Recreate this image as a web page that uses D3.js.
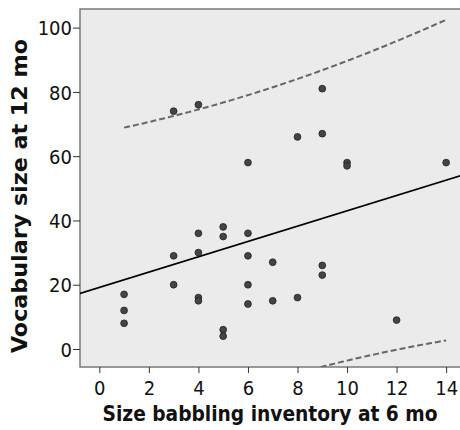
<!DOCTYPE html>
<html>
<head>
<meta charset="utf-8">
<script src="https://cdn.jsdelivr.net/npm/d3@7"></script>
<style>
  body { margin: 0; background: #fff; }
  .axis text { font-family: "DejaVu Sans Condensed", "DejaVu Sans", sans-serif; font-size: 20px; fill: #111; }
  .axis path, .axis line { stroke: #333; }
  .title { font-family: "DejaVu Sans Condensed", "DejaVu Sans", sans-serif; font-weight: bold; font-size: 21px; fill: #111; }
</style>
</head>
<body>
<div id="chart"></div>
<script>
// babbling inventory size at 6 mo
var babbling = [1, 1, 1, 3, 3, 3, 4, 4, 4, 4, 4, 5, 5, 5, 5, 6, 6, 6, 6, 6, 7, 7, 8, 8, 9, 9, 9, 9, 10, 10, 12, 14];
// vocabulary size at 12 mo
var vocab = [17, 12, 8, 74, 29, 20, 76, 36, 30, 16, 15, 38, 35, 6, 4, 58, 36, 29, 20, 14, 27, 15, 66, 16, 81, 67, 26, 23, 58, 57, 9, 58];
var x_ticks = [0, 2, 4, 6, 8, 10, 12, 14];
var y_ticks = [0, 20, 40, 60, 80, 100];
var t_crit = 2.042; // t(0.975, df = 30)

var chart_width = 460;
var chart_height = 430;
var left = 80, top_ = 9, right = 462, bottom = 367;

var svg = d3.select('#chart')
  .append('svg')
  .attr('width', chart_width)
  .attr('height', chart_height);

var x_scale = d3.scaleLinear()
  .domain([-0.78, 14.6])
  .range([left, 460 + 1]);

var y_scale = d3.scaleLinear()
  .domain([-5.6, 105.8])
  .range([bottom, top_]);

// plot background
svg.append('rect')
  .attr('x', left)
  .attr('y', top_)
  .attr('width', right - left)
  .attr('height', bottom - top_)
  .attr('fill', '#ebebeb')
  .attr('stroke', '#7a7a7a')
  .attr('stroke-width', 1.5);

// regression and 95% prediction interval
var n = babbling.length;
var mx = d3.mean(babbling), my = d3.mean(vocab);
var sxx = d3.sum(babbling, (d) => (d - mx) * (d - mx));
var sxy = d3.sum(babbling, (d, i) => (d - mx) * (vocab[i] - my));
var slope = sxy / sxx;
var intercept = my - slope * mx;
var sse = d3.sum(babbling, (d, i) => Math.pow(vocab[i] - (intercept + slope * d), 2));
var s = Math.sqrt(sse / (n - 2));

var pi_x = d3.range(d3.min(babbling), d3.max(babbling) + 0.001, 0.1);
function half(x) {
  return t_crit * s * Math.sqrt(1 + 1 / n + (x - mx) * (x - mx) / sxx);
}

svg.append('clipPath').attr('id', 'clip')
  .append('rect')
  .attr('x', left).attr('y', top_)
  .attr('width', right - left).attr('height', bottom - top_);

var g = svg.append('g').attr('clip-path', 'url(#clip)');

var line = d3.line()
  .x((d) => x_scale(d[0]))
  .y((d) => y_scale(d[1]));

[1, -1].forEach(function(sign) {
  g.append('path')
    .datum(pi_x.map((x) => [x, intercept + slope * x + sign * half(x)]))
    .attr('d', line)
    .attr('fill', 'none')
    .attr('stroke', '#666')
    .attr('stroke-width', 2)
    .attr('stroke-dasharray', '6,3');
});

g.append('path')
  .datum(x_scale.domain().map((x) => [x, intercept + slope * x]))
  .attr('d', line)
  .attr('fill', 'none')
  .attr('stroke', '#000')
  .attr('stroke-width', 1.8);

// points
g.selectAll('circle')
  .data(babbling)
  .enter()
  .append('circle')
  .attr('cx', (d) => x_scale(d))
  .attr('cy', (d, i) => y_scale(vocab[i]))
  .attr('r', 3.4)
  .attr('fill', '#444')
  .attr('stroke', '#222')
  .attr('stroke-width', 0.8);

// axes
var x_axis = d3.axisBottom(x_scale).tickValues(x_ticks).tickSize(6).tickSizeOuter(0);
var y_axis = d3.axisLeft(y_scale).tickValues(y_ticks).tickSize(7).tickSizeOuter(0);

svg.append('g')
  .attr('class', 'axis')
  .attr('transform', 'translate(0,' + bottom + ')')
  .call(x_axis)
  .call((a) => a.select('.domain').remove())
  .selectAll('text').attr('dy', '0.95em');

svg.append('g')
  .attr('class', 'axis')
  .attr('transform', 'translate(' + left + ',0)')
  .call(y_axis)
  .call((a) => a.select('.domain').remove())
  .selectAll('text').attr('x', -8).attr('dy', '0.36em');

// titles
svg.append('text')
  .attr('class', 'title')
  .attr('x', 270)
  .attr('y', 421)
  .attr('text-anchor', 'middle')
  .attr('textLength', 335)
  .attr('lengthAdjust', 'spacingAndGlyphs')
  .text('Size babbling inventory at 6 mo');

svg.append('text')
  .attr('class', 'title')
  .attr('transform', 'translate(27,196) rotate(-90)')
  .attr('text-anchor', 'middle')
  .attr('textLength', 314)
  .attr('lengthAdjust', 'spacingAndGlyphs')
  .text('Vocabulary size at 12 mo');
</script>
</body>
</html>
